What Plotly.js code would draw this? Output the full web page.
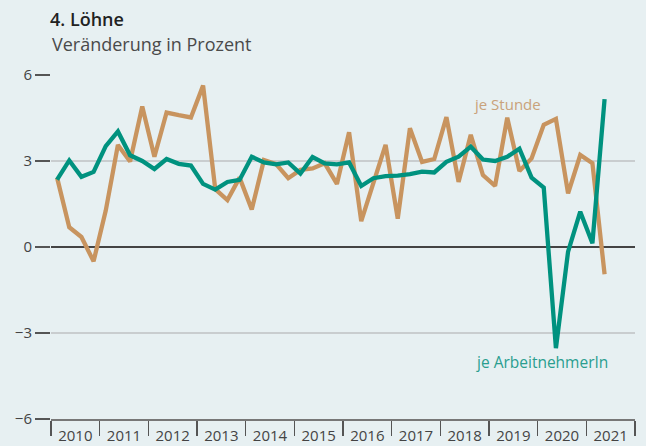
<!DOCTYPE html>
<html>
<head>
<meta charset="utf-8">
<script src="https://cdn.plot.ly/plotly-3.0.1.min.js"></script>
<style>
  html, body { margin: 0; padding: 0; background: #e7f0f2; }
  #chart { width: 646px; height: 446px; }
</style>
</head>
<body>
<div id="chart"></div>
<script>
// Quarterly data, 2010 Q1 – 2021 Q2
const startYear = 2010;
const years = [2010, 2011, 2012, 2013, 2014, 2015, 2016, 2017, 2018, 2019, 2020, 2021];
const jeArbeitnehmerIn = [
  2.35, 3.02, 2.45, 2.62,   // 2010
  3.52, 4.03, 3.20, 3.00,   // 2011
  2.72, 3.07, 2.90, 2.84,   // 2012
  2.20, 2.00, 2.27, 2.34,   // 2013
  3.15, 2.95, 2.88, 2.95,   // 2014
  2.56, 3.14, 2.92, 2.88,   // 2015
  2.95, 2.13, 2.40, 2.47,   // 2016
  2.49, 2.54, 2.63, 2.60,   // 2017
  2.97, 3.15, 3.50, 3.05,   // 2018
  3.00, 3.15, 3.43, 2.42,   // 2019
  2.07, -3.53, -0.16, 1.23, // 2020
  0.13, 5.16                // 2021
];
const jeStunde = [
  2.42, 0.69, 0.35, -0.50,  // 2010
  1.27, 3.56, 2.98, 4.90,   // 2011
  3.15, 4.69, 4.60, 4.52,   // 2012
  5.63, 2.02, 1.64, 2.42,   // 2013
  1.31, 3.03, 2.89, 2.40,   // 2014
  2.69, 2.74, 2.92, 2.20,   // 2015
  4.00, 0.90, 2.24, 3.56,   // 2016
  0.99, 4.14, 2.97, 3.07,   // 2017
  4.53, 2.27, 3.91, 2.51,   // 2018
  2.13, 4.51, 2.65, 3.09,   // 2019
  4.26, 4.47, 1.87, 3.21,   // 2020
  2.92, -0.95               // 2021
];
const yTicks = [-6, -3, 0, 3, 6];

// quarter midpoints on a continuous year axis
const xq = jeStunde.map((_, i) => startYear + (i + 0.5) / 4);
const yearBounds = years.concat([years[years.length - 1] + 1]);
const yearMids = years.map(y => y + 0.5);

const green = '#00927f';
const orange = '#c8945f';
const font = '"Open Sans", "Noto Sans", sans-serif';

const traces = [
  { x: xq, y: jeStunde, type: 'scatter', mode: 'lines', name: 'je Stunde',
    line: { color: orange, width: 4.3, shape: 'linear' }, xaxis: 'x', yaxis: 'y', hoverinfo: 'skip' },
  { x: xq, y: jeArbeitnehmerIn, type: 'scatter', mode: 'lines', name: 'je ArbeitnehmerIn',
    line: { color: green, width: 4.3, shape: 'linear' }, xaxis: 'x', yaxis: 'y', hoverinfo: 'skip' },
  { x: yearMids, y: yearMids.map(() => null), type: 'scatter', mode: 'lines', xaxis: 'x2', yaxis: 'y',
    showlegend: false, hoverinfo: 'skip' }
];

const layout = {
  width: 646, height: 446,
  paper_bgcolor: '#e7f0f2', plot_bgcolor: '#e7f0f2',
  margin: { l: 51, r: 11, t: 75, b: 27 },
  showlegend: false,
  font: { family: font, color: '#444', size: 15 },
  title: {
    text: '4. Löhne',
    font: { family: font, size: 18, color: '#222', weight: 600 },
    xref: 'container', yref: 'container',
    x: 50 / 646, xanchor: 'left',
    y: 1 - 20 / 446, yanchor: 'middle'
  },
  xaxis: {
    range: [startYear, years[years.length - 1] + 1],
    tickmode: 'array', tickvals: yearBounds, ticktext: yearBounds.map(() => ''),
    ticks: 'outside', ticklen: 15, tickwidth: 1.5, tickcolor: '#555',
    showgrid: false, zeroline: false,
    showline: true, linecolor: '#777', linewidth: 2,
    fixedrange: true
  },
  xaxis2: {
    overlaying: 'x', matches: 'x', side: 'bottom',
    range: [startYear, years[years.length - 1] + 1],
    tickmode: 'array', tickvals: yearMids, ticktext: years.map(String),
    ticks: 'outside', ticklen: 3, tickcolor: 'rgba(0,0,0,0)',
    showgrid: false, zeroline: false, showline: false,
    tickfont: { family: font, size: 15, color: '#444' },
    fixedrange: true
  },
  yaxis: {
    range: [-6, 6],
    tickmode: 'array', tickvals: yTicks,
    ticks: 'outside', ticklen: 15, tickwidth: 1.5, tickcolor: '#555',
    showgrid: true, gridcolor: '#c9cdcf', gridwidth: 1.2,
    zeroline: true, zerolinecolor: '#444', zerolinewidth: 1.5,
    showline: false,
    tickfont: { family: font, size: 15, color: '#444' },
    fixedrange: true
  },
  annotations: [
    { xref: 'paper', yref: 'paper', x: -1 / 584, y: (419 - 44) / 344,
      xanchor: 'left', yanchor: 'middle', showarrow: false,
      text: 'Veränderung in Prozent', font: { family: font, size: 18, color: '#4a4a4a' } },
    { xref: 'x', yref: 'y', x: 2018.65, y: 4.99, xanchor: 'left', yanchor: 'middle',
      showarrow: false, text: 'je Stunde', font: { family: font, size: 15, color: '#c9a27b' } },
    { xref: 'x', yref: 'y', x: 2018.69, y: -4.01, xanchor: 'left', yanchor: 'middle',
      showarrow: false, text: 'je ArbeitnehmerIn', font: { family: font, size: 15.5, color: '#2a9e8f' } }
  ]
};

Plotly.newPlot('chart', traces, layout, { staticPlot: true, displayModeBar: false });
</script>
</body>
</html>
